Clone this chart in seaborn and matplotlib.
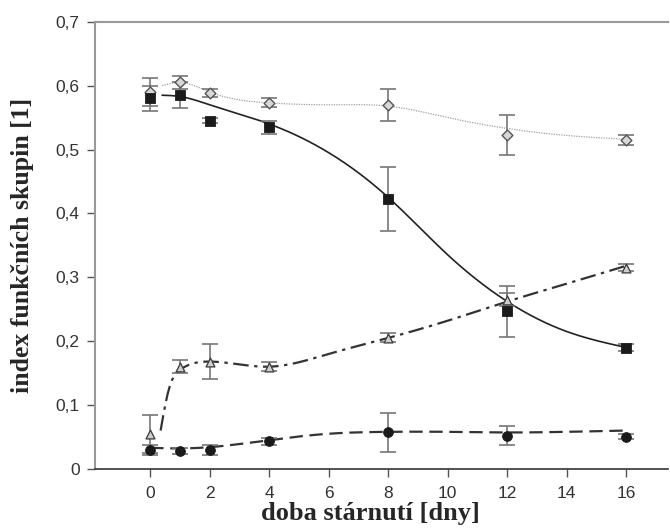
import numpy as np
import pandas as pd
import matplotlib
matplotlib.use("Agg")
import matplotlib.pyplot as plt
import seaborn as sns

# days of ageing
days = [0, 1, 2, 4, 8, 12, 16]

# measured points and error bars
diamond = [0.590, 0.605, 0.588, 0.573, 0.570, 0.523, 0.515]
diamond_err = [0.022, 0.010, 0.006, 0.007, 0.025, 0.031, 0.008]
square = [0.580, 0.585, 0.545, 0.535, 0.423, 0.247, 0.190]
square_err = [0.020, 0.020, 0.004, 0.010, 0.050, 0.040, 0.005]
triangle = [0.055, 0.160, 0.168, 0.160, 0.205, 0.265, 0.315]
triangle_err = [0.030, 0.010, 0.027, 0.007, 0.007, 0.010, 0.005]
circle = [0.030, 0.028, 0.030, 0.043, 0.057, 0.052, 0.050]
circle_err = [0.008, 0.004, 0.008, 0.006, 0.030, 0.015, 0.004]

# fitted trend lines, values at the knot days
trend_days = [0.4, 1, 2, 4, 6, 8, 10, 12, 14, 16]
diamond_trend = [0.600, 0.605, 0.590, 0.573, 0.570, 0.568, 0.550, 0.533, 0.522, 0.516]
square_trend = [0.585, 0.583, 0.570, 0.540, 0.495, 0.425, 0.335, 0.262, 0.215, 0.190]
triangle_days = [0.35, 0.6, 1, 2, 4, 6, 8, 10, 12, 14, 16]
triangle_trend = [0.060, 0.120, 0.155, 0.168, 0.160, 0.180, 0.205, 0.232, 0.262, 0.290, 0.318]
circle_days = [0, 1, 2, 4, 6, 8, 10, 12, 14, 16]
circle_trend = [0.033, 0.032, 0.034, 0.045, 0.055, 0.058, 0.058, 0.057, 0.058, 0.060]


def smooth(xs, ys, n=200):
    # natural cubic spline through the knots, for drawing only
    xs = np.asarray(xs, float)
    ys = np.asarray(ys, float)
    k = len(xs)
    h = np.diff(xs)
    A = np.zeros((k, k))
    r = np.zeros(k)
    A[0, 0] = A[-1, -1] = 1
    for i in range(1, k - 1):
        A[i, i - 1] = h[i - 1]
        A[i, i] = 2 * (h[i - 1] + h[i])
        A[i, i + 1] = h[i]
        r[i] = 6 * ((ys[i + 1] - ys[i]) / h[i] - (ys[i] - ys[i - 1]) / h[i - 1])
    m = np.linalg.solve(A, r)
    xx = np.linspace(xs[0], xs[-1], n)
    idx = np.clip(np.searchsorted(xs, xx) - 1, 0, k - 2)
    x0, x1 = xs[idx], xs[idx + 1]
    hh = x1 - x0
    a = (x1 - xx) / hh
    b = (xx - x0) / hh
    yy = a * ys[idx] + b * ys[idx + 1] + ((a**3 - a) * m[idx] + (b**3 - b) * m[idx + 1]) * hh**2 / 6
    return xx, yy


sns.set_theme(style="white")
plt.rcParams['font.family'] = ['Liberation Sans', 'DejaVu Sans']

fig, ax = plt.subplots(figsize=(6.7, 5.31), dpi=100)
fig.subplots_adjust(left=0.142, right=0.997, bottom=0.117, top=0.959)

# trend curves
x, y = smooth(trend_days, diamond_trend)
ax.plot(x, y, color='#a0a0a0', lw=0.9, ls=(0, (1, 1)), zorder=2)
x, y = smooth(trend_days, square_trend)
ax.plot(x, y, color='#222222', lw=1.2, zorder=2)
x, y = smooth(triangle_days, triangle_trend)
ax.plot(x, y, color='#333333', lw=1.6, ls=(0, (7, 2.5, 1.5, 2.5)), zorder=2)
x, y = smooth(circle_days, circle_trend)
ax.plot(x, y, color='#333333', lw=1.6, ls=(0, (6, 3)), zorder=2)

# error bars
for vals, errs in [(diamond, diamond_err), (square, square_err),
                   (triangle, triangle_err), (circle, circle_err)]:
    ax.errorbar(days, vals, yerr=errs, fmt='none', ecolor='#777777',
                elinewidth=1.2, capsize=6, capthick=1.2, zorder=3)

df = pd.DataFrame({'day': days * 4,
                   'value': diamond + square + triangle + circle,
                   'series': ['diamond'] * 7 + ['square'] * 7 + ['triangle'] * 7 + ['circle'] * 7})

sns.scatterplot(data=df[df.series == 'diamond'], x='day', y='value', marker='D', s=30,
                facecolor='#d8d8d8', edgecolor='#555555', linewidth=1, ax=ax, zorder=4)
sns.scatterplot(data=df[df.series == 'square'], x='day', y='value', marker='s', s=55,
                color='#1a1a1a', edgecolor='#1a1a1a', ax=ax, zorder=4)
sns.scatterplot(data=df[df.series == 'triangle'], x='day', y='value', marker='^', s=40,
                facecolor='#d0d0d0', edgecolor='#444444', linewidth=1, ax=ax, zorder=4)
sns.scatterplot(data=df[df.series == 'circle'], x='day', y='value', marker='o', s=50,
                color='#1a1a1a', edgecolor='#1a1a1a', ax=ax, zorder=4)

ax.set_xlim(-1.85, 17.4)
ax.set_ylim(0, 0.7)
ax.set_xticks(range(0, 17, 2))
yt = [0, 0.1, 0.2, 0.3, 0.4, 0.5, 0.6, 0.7]
ax.set_yticks(yt)
ax.set_yticklabels(['0'] + [f"{v:.1f}".replace('.', ',') for v in yt[1:]])
ax.tick_params(axis='both', direction='out', length=6, width=1, color='#555555',
               labelsize=12.5, labelcolor='#333333', bottom=True, left=True)
ax.tick_params(axis='x', pad=6)
ax.tick_params(axis='y', pad=5)

for s in ['top', 'left']:
    ax.spines[s].set_color('#999999')
    ax.spines[s].set_linewidth(1.5)
ax.spines['right'].set_visible(False)
ax.spines['bottom'].set_color('#333333')
ax.spines['bottom'].set_linewidth(1.2)

ax.set_xlabel('doba stárnutí [dny]', family=['Liberation Serif', 'DejaVu Serif'],
              fontweight='bold', fontsize=19, labelpad=0)
ax.xaxis.set_label_coords(0.48, -0.075)
ax.set_ylabel('index funkčních skupin [1]', family=['Liberation Serif', 'DejaVu Serif'],
              fontweight='bold', fontsize=18.5, labelpad=16)

fig.savefig('out.png', dpi=100)
